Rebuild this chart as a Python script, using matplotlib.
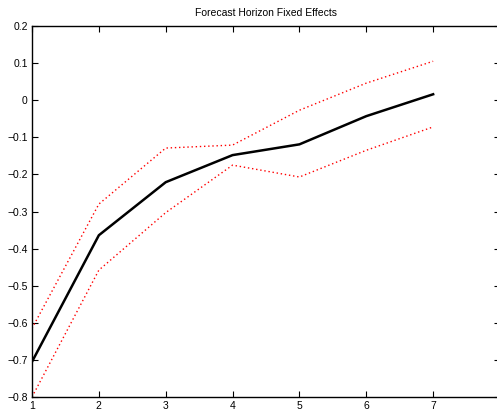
import matplotlib
matplotlib.use('Agg')
import matplotlib.pyplot as plt
import numpy as np

plt.rcParams['font.family'] = ['Liberation Sans', 'DejaVu Sans']

horizon = [1, 2, 3, 4, 5, 6, 7]
effect = [-0.705, -0.364, -0.221, -0.148, -0.119, -0.043, 0.016]
upper = [-0.615, -0.28, -0.129, -0.121, -0.027, 0.046, 0.105]
lower = [-0.80, -0.458, -0.303, -0.175, -0.207, -0.135, -0.072]
yticks = [-0.8, -0.7, -0.6, -0.5, -0.4, -0.3, -0.2, -0.1, 0, 0.1, 0.2]

fig = plt.figure(figsize=(4.97, 4.12), dpi=100)
ax = fig.add_axes([32 / 497, 1 - 397 / 412, (500 - 32) / 497, (397 - 26) / 412])

ax.plot(horizon, upper, color='red', linestyle=(0, (1, 2)), linewidth=1)
ax.plot(horizon, lower, color='red', linestyle=(0, (1, 2)), linewidth=1)
ax.plot(horizon, effect, color='black', linewidth=1.8)

ax.set_xlim(1, 8)
ax.set_ylim(-0.8, 0.2)
ax.set_xticks(horizon)
ax.set_yticks(yticks)
ax.set_yticklabels([('%g' % v).replace('-', '\u2212') for v in yticks])
ax.tick_params(direction='in', top=True, right=True, length=4, width=0.8, labelsize=7.5, pad=3)
for s in ax.spines.values():
    s.set_linewidth(1)
ax.set_title('Forecast Horizon Fixed Effects', fontsize=7.5, pad=7)

fig.savefig('out.png', dpi=100)
